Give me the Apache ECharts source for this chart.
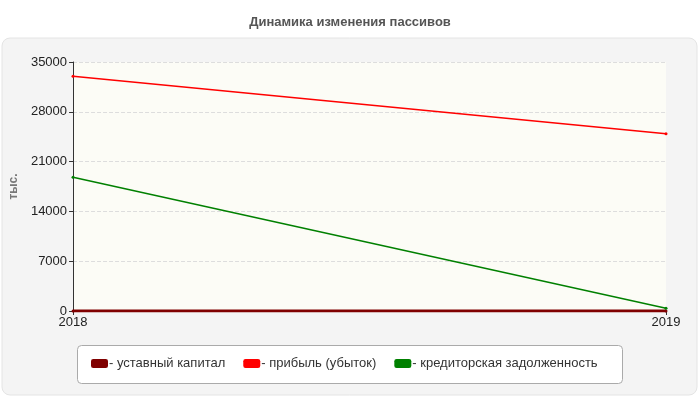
<!DOCTYPE html>
<html><head><meta charset="utf-8">
<script src="https://cdn.jsdelivr.net/npm/echarts@6/dist/echarts.min.js"></script>
<style>html,body{margin:0;padding:0;background:#fff}#c{width:700px;height:400px}</style>
</head><body><div id="c"></div>
<script>
const categories = ['2018', '2019'];
const ustavny = [10, 10];
const pribyl = [33000, 24900];
const kredit = [18800, 400];
const seriesNames = ['- уставный капитал', '- прибыль (убыток)', '- кредиторская задолженность'];
const colors = ['#800000', '#ff0000', '#008000'];

const chart = echarts.init(document.getElementById('c'));
const mk = (name, data, color, w) => ({
  name, type: 'line', data, color, symbol: 'circle', symbolSize: 3,
  lineStyle: { width: w, color }, itemStyle: { color }
});
const F = 'Liberation Sans, Arial';
chart.setOption({
  animation: false,
  backgroundColor: '#fff',
  title: { text: 'Динамика изменения пассивов', left: 'center', top: 11,
    textStyle: { fontFamily: F, fontSize: 13, fontWeight: 'bold', color: '#555' } },
  graphic: [
    { type: 'rect', z: -10, shape: { x: 2, y: 38, width: 695, height: 357, r: 8 },
      style: { fill: '#f4f4f4', stroke: '#e4e4e4', lineWidth: 1 } },
    { type: 'rect', z: -5, shape: { x: 77.5, y: 345.5, width: 545, height: 38, r: 4 },
      style: { fill: '#fff', stroke: '#aaa', lineWidth: 1 } }
  ],
  legend: { left: 86, top: 352, itemWidth: 17, itemHeight: 9, itemGap: 18, icon: 'roundRect',
    data: seriesNames,
    textStyle: { fontFamily: F, fontSize: 13, color: '#333', padding: [0,0,0,-4] } },
  grid: { left: 73, right: 34, top: 62, bottom: 89, backgroundColor: '#fcfcf6', show: true, borderWidth: 0 },
  xAxis: { type: 'category', data: categories, boundaryGap: false,
    axisLine: { lineStyle: { color: '#333' } }, axisTick: { show: true, length: 4, lineStyle: { color: '#333' } },
    axisLabel: { color: '#222', fontSize: 13, fontFamily: F, margin: 5 },
    splitLine: { show: false } },
  yAxis: { type: 'value', min: 0, max: 35000, interval: 7000, name: 'тыс.', nameLocation: 'middle', nameGap: 22,
    nameTextStyle: { color: '#777', fontSize: 12, fontWeight: 'bold', fontFamily: F },
    axisLine: { show: true, lineStyle: { color: '#333' } }, axisTick: { show: true, length: 4, lineStyle: { color: '#333' } },
    axisLabel: { color: '#222', fontSize: 13, fontFamily: F, margin: 6, formatter: v => String(v) },
    splitLine: { lineStyle: { color: '#ddd', type: 'dashed' } } },
  series: [
    mk(seriesNames[0], ustavny, colors[0], 3),
    mk(seriesNames[1], pribyl, colors[1], 1.5),
    mk(seriesNames[2], kredit, colors[2], 1.5)
  ]
});
</script></body></html>
